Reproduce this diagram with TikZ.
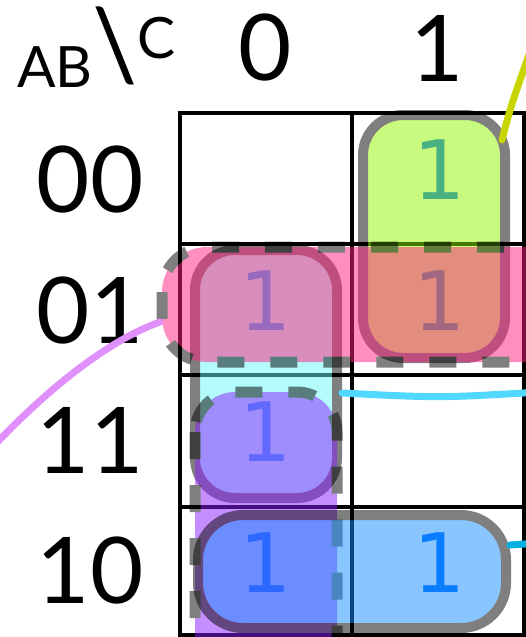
\documentclass[tikz,border=0pt]{standalone}
\usepackage{fontspec}
\setmainfont{Lato}
\newfontfamily\cellfont{DejaVu Sans}
\usetikzlibrary{positioning,calc}

\definecolor{grpgreen}{RGB}{145,245,0}
\definecolor{grpcyan}{RGB}{105,249,249}
\definecolor{grppink}{RGB}{255,32,128}
\definecolor{grpviolet}{RGB}{140,30,255}
\definecolor{grpblue}{RGB}{20,140,255}
\definecolor{onecol}{RGB}{0,110,255}
\definecolor{lnolive}{RGB}{200,212,0}
\definecolor{lnlilac}{RGB}{224,144,250}
\definecolor{lncyan}{RGB}{80,216,255}
\definecolor{lnblue}{RGB}{0,176,224}

\begin{document}
\begin{tikzpicture}[
        x=1pt, y=-1pt,
        hdr/.style={font=\fontsize{92}{92}\selectfont, inner sep=0pt},
        one/.style={font=\cellfont\fontsize{82}{82}\selectfont, text=onecol, inner sep=0pt},
        gridline/.style={line width=4pt},
        grp/.style={rounded corners=40pt, fill=#1, draw=black, line width=10pt},
        dgrp/.style={grp=#1, line width=11pt, dash pattern=on 27pt off 26pt},
        see/.style={transparency group, opacity=0.5},
        link/.style={line width=7pt, draw=#1, line cap=round}
      ]
        \useasboundingbox (0,0) rectangle (526,637);
        \clip (0,0) rectangle (526,637);

        % headers
        \node[anchor=base west, inner sep=0pt] (corner) at (17,87)
          {\fontsize{57}{57}\selectfont AB\raisebox{7pt}{\fontsize{100}{100}\selectfont\textbackslash}\raisebox{29pt}{C}};
        \node[hdr] (c0) at (265,48) {0};
        \node[hdr] (c1) at (437,48) {1};
        \node[hdr] (r00) at (90,180) {00};
        \node[hdr] (r01) at (90,311) {01};
        \node[hdr] (r11) at (90,440) {11};
        \node[hdr] (r10) at (90,571) {10};

        % map
        \draw[gridline] (180,113) rectangle (524,635);
        \draw[gridline] (352,113) -- (352,635);
        \foreach \y in {244,375,507}
          \draw[gridline] (180,\y) -- (524,\y);

        % ones
        \node[one] (m1) at (440,170) {1};
        \node[one] (m2) at (266,301) {1};
        \node[one] (m3) at (440,301) {1};
        \node[one] (m6) at (266,432) {1};
        \node[one] (m4) at (266,563) {1};
        \node[one] (m5) at (440,563) {1};

        % groups
        \begin{scope}[see]
          \draw[grp=grpgreen] (363,115) rectangle (505,358);
        \end{scope}
        \begin{scope}[see]
          \draw[grp=grpcyan] (195,250) rectangle (337,498);
        \end{scope}
        \begin{scope}[see]
          \draw[dgrp=grppink, rounded corners=45pt] (162,247) rectangle (720,362);
        \end{scope}
        \begin{scope}[see]
          \draw[dgrp=grpviolet] (195,392) rectangle (337,780);
        \end{scope}
        \begin{scope}[see]
          \draw[grp=grpblue, rounded corners=45pt] (198,515) rectangle (506,628);
        \end{scope}

        % links
        \coordinate (gA) at (502,140);
        \coordinate (gB) at (538,30);
        \coordinate (pA) at (160,322);
        \coordinate (pB) at (-10,450);
        \coordinate (cA) at (342,393);
        \coordinate (cB) at (540,392);
        \coordinate (bA) at (510,545);
        \coordinate (bB) at (540,543);
        \draw[link=lnolive] (gA) .. controls (511,105) .. (gB);
        \draw[link=lnlilac] (pA) .. controls (120,336) and (60,375) .. (pB);
        \draw[link=lncyan] (cA) .. controls (440,398) .. (cB);
        \draw[link=lnblue] (bA) -- (bB);
      \end{tikzpicture}
\end{document}
